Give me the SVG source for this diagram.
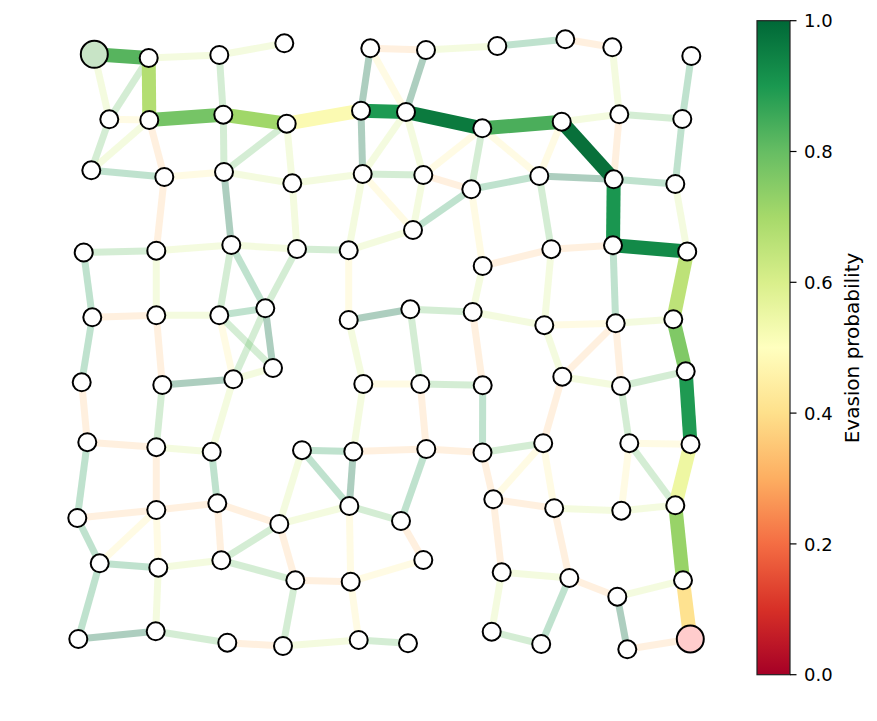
<svg xmlns="http://www.w3.org/2000/svg" width="877" height="721" viewBox="0 0 877 721">
<defs>
<linearGradient id="rdylgn" x1="0" y1="1" x2="0" y2="0">
<stop offset="0" stop-color="#a50026"/>
<stop offset="0.1" stop-color="#d73027"/>
<stop offset="0.2" stop-color="#f46d43"/>
<stop offset="0.3" stop-color="#fdae61"/>
<stop offset="0.4" stop-color="#fee08b"/>
<stop offset="0.5" stop-color="#ffffbf"/>
<stop offset="0.6" stop-color="#d9ef8b"/>
<stop offset="0.7" stop-color="#a6d96a"/>
<stop offset="0.8" stop-color="#66bd63"/>
<stop offset="0.9" stop-color="#1a9850"/>
<stop offset="1" stop-color="#006837"/>
</linearGradient>
<style>
line{fill:none;stroke-linecap:butt}
.f{stroke-width:7;stroke-opacity:0.28}
.t{stroke:#1a9850}
.T{stroke:#006837;stroke-opacity:0.32}
.g{stroke:#66bd63}
.y{stroke:#d9ef8b}
.w{stroke:#fff3a6;stroke-opacity:0.3}
.o{stroke:#fdc07a;stroke-opacity:0.24}
.p{stroke-width:14}
circle{fill:#ffffff;stroke:#000000;stroke-width:2}
.tk{font-family:"DejaVu Sans",sans-serif;font-size:18px;fill:#000}
.lb{font-family:"DejaVu Sans",sans-serif;font-size:20px;fill:#000}
</style>
</defs>
<rect width="877" height="721" fill="#ffffff"/>
<g id="edges">
<line class="f y" x1="148.7" y1="58" x2="219.3" y2="55"/>
<line class="f y" x1="219.3" y1="55" x2="284.3" y2="43.3"/>
<line class="f y" x1="94.3" y1="54.3" x2="109.3" y2="119.3"/>
<line class="f g" x1="148.7" y1="58" x2="109.3" y2="119.3"/>
<line class="f w" x1="109.3" y1="119.3" x2="149.3" y2="120"/>
<line class="f g" x1="109.3" y1="119.3" x2="91.3" y2="170.3"/>
<line class="f y" x1="149.3" y1="120" x2="91.3" y2="170.3"/>
<line class="f o" x1="149.3" y1="120" x2="164.3" y2="177"/>
<line class="f t" x1="91.3" y1="170.3" x2="164.3" y2="177"/>
<line class="f g" x1="219.3" y1="55" x2="223.3" y2="114.7"/>
<line class="f g" x1="223.3" y1="114.7" x2="224" y2="172"/>
<line class="f g" x1="286.7" y1="123.7" x2="224" y2="172"/>
<line class="f w" x1="164.3" y1="177" x2="224" y2="172"/>
<line class="f y" x1="224" y1="172" x2="292.3" y2="183.3"/>
<line class="f y" x1="286.7" y1="123.7" x2="292.3" y2="183.3"/>
<line class="f o" x1="164.3" y1="177" x2="156.3" y2="250.7"/>
<line class="f T" x1="224" y1="172" x2="231.3" y2="245"/>
<line class="f y" x1="292.3" y1="183.3" x2="297" y2="249"/>
<line class="f y" x1="292.3" y1="183.3" x2="362.7" y2="174"/>
<line class="f o" x1="370.3" y1="48.3" x2="426" y2="50"/>
<line class="f y" x1="426" y1="50" x2="497.3" y2="46"/>
<line class="f t" x1="497.3" y1="46" x2="565.3" y2="39.3"/>
<line class="f o" x1="565.3" y1="39.3" x2="612.3" y2="47.3"/>
<line class="f T" x1="370.3" y1="48.3" x2="361" y2="110.7"/>
<line class="f T" x1="426" y1="50" x2="406" y2="112"/>
<line class="f w" x1="370.3" y1="48.3" x2="406" y2="112"/>
<line class="f T" x1="361" y1="110.7" x2="362.7" y2="174"/>
<line class="f y" x1="406" y1="112" x2="362.7" y2="174"/>
<line class="f y" x1="406" y1="112" x2="423.3" y2="175"/>
<line class="f g" x1="362.7" y1="174" x2="423.3" y2="175"/>
<line class="f w" x1="362.7" y1="174" x2="413" y2="230"/>
<line class="f y" x1="423.3" y1="175" x2="413" y2="230"/>
<line class="f o" x1="423.3" y1="175" x2="471.3" y2="189.3"/>
<line class="f w" x1="482.3" y1="128.3" x2="423.3" y2="175"/>
<line class="f g" x1="482.3" y1="128.3" x2="471.3" y2="189.3"/>
<line class="f w" x1="482.3" y1="128.3" x2="539.3" y2="176"/>
<line class="f t" x1="471.3" y1="189.3" x2="539.3" y2="176"/>
<line class="f t" x1="471.3" y1="189.3" x2="413" y2="230"/>
<line class="f w" x1="471.3" y1="189.3" x2="482.7" y2="266"/>
<line class="f w" x1="561.7" y1="121.7" x2="539.3" y2="176"/>
<line class="f g" x1="539.3" y1="176" x2="551.3" y2="249.2"/>
<line class="f y" x1="362.7" y1="174" x2="348.7" y2="250.3"/>
<line class="f y" x1="348.7" y1="250.3" x2="413" y2="230"/>
<line class="f g" x1="297" y1="249" x2="348.7" y2="250.3"/>
<line class="f o" x1="482.7" y1="266" x2="551.3" y2="249.2"/>
<line class="f y" x1="612.3" y1="47.3" x2="619.3" y2="114.3"/>
<line class="f t" x1="691.3" y1="56" x2="682.3" y2="119"/>
<line class="f y" x1="561.7" y1="121.7" x2="619.3" y2="114.3"/>
<line class="f g" x1="619.3" y1="114.3" x2="682.3" y2="119"/>
<line class="f o" x1="619.3" y1="114.3" x2="613.7" y2="179.3"/>
<line class="f t" x1="682.3" y1="119" x2="675.3" y2="184"/>
<line class="f T" x1="539.3" y1="176" x2="613.7" y2="179.3"/>
<line class="f t" x1="613.7" y1="179.3" x2="675.3" y2="184"/>
<line class="f y" x1="675.3" y1="184" x2="687.2" y2="251.5"/>
<line class="f o" x1="551.3" y1="249.2" x2="613" y2="245.3"/>
<line class="f g" x1="83.7" y1="252.5" x2="156.3" y2="250.7"/>
<line class="f y" x1="156.3" y1="250.7" x2="231.3" y2="245"/>
<line class="f y" x1="231.3" y1="245" x2="297" y2="249"/>
<line class="f t" x1="83.7" y1="252.5" x2="92.3" y2="317.3"/>
<line class="f y" x1="156.3" y1="250.7" x2="156.3" y2="315.3"/>
<line class="f g" x1="231.3" y1="245" x2="219.3" y2="315.3"/>
<line class="f t" x1="231.3" y1="245" x2="265.3" y2="308.3"/>
<line class="f g" x1="297" y1="249" x2="265.3" y2="308.3"/>
<line class="f o" x1="92.3" y1="317.3" x2="156.3" y2="315.3"/>
<line class="f y" x1="156.3" y1="315.3" x2="219.3" y2="315.3"/>
<line class="f t" x1="219.3" y1="315.3" x2="265.3" y2="308.3"/>
<line class="f T" x1="265.3" y1="308.3" x2="273" y2="368"/>
<line class="f w" x1="219.3" y1="315.3" x2="233.3" y2="379.3"/>
<line class="f y" x1="233.3" y1="379.3" x2="273" y2="368"/>
<line class="f g" x1="265.3" y1="308.3" x2="233.3" y2="379.3"/>
<line class="f g" x1="219.3" y1="315.3" x2="273" y2="368"/>
<line class="f t" x1="92.3" y1="317.3" x2="81.7" y2="382.3"/>
<line class="f o" x1="156.3" y1="315.3" x2="162.3" y2="385"/>
<line class="f T" x1="162.3" y1="385" x2="233.3" y2="379.3"/>
<line class="f o" x1="81.7" y1="382.3" x2="87.3" y2="442.2"/>
<line class="f g" x1="162.3" y1="385" x2="156.3" y2="447.2"/>
<line class="f y" x1="233.3" y1="379.3" x2="211.7" y2="451.8"/>
<line class="f o" x1="87.3" y1="442.2" x2="156.3" y2="447.2"/>
<line class="f y" x1="156.3" y1="447.2" x2="211.7" y2="451.8"/>
<line class="f w" x1="348.7" y1="250.3" x2="348.7" y2="320"/>
<line class="f y" x1="482.7" y1="266" x2="472.7" y2="312"/>
<line class="f y" x1="551.3" y1="249.2" x2="544.3" y2="325.2"/>
<line class="f T" x1="348.7" y1="320" x2="410.3" y2="309.3"/>
<line class="f g" x1="410.3" y1="309.3" x2="472.7" y2="312"/>
<line class="f y" x1="472.7" y1="312" x2="544.3" y2="325.2"/>
<line class="f g" x1="410.3" y1="309.3" x2="420.3" y2="384"/>
<line class="f y" x1="348.7" y1="320" x2="363.3" y2="384"/>
<line class="f o" x1="472.7" y1="312" x2="482.7" y2="385.3"/>
<line class="f y" x1="544.3" y1="325.2" x2="562.3" y2="376.7"/>
<line class="f w" x1="363.3" y1="384" x2="420.3" y2="384"/>
<line class="f g" x1="420.3" y1="384" x2="482.7" y2="385.3"/>
<line class="f y" x1="363.3" y1="384" x2="353.3" y2="451.5"/>
<line class="f o" x1="420.3" y1="384" x2="426.3" y2="449"/>
<line class="f t" x1="482.7" y1="385.3" x2="482.5" y2="452.5"/>
<line class="f o" x1="562.3" y1="376.7" x2="543.2" y2="443.2"/>
<line class="f t" x1="302" y1="450.2" x2="353.3" y2="451.5"/>
<line class="f o" x1="353.3" y1="451.5" x2="426.3" y2="449"/>
<line class="f o" x1="426.3" y1="449" x2="482.5" y2="452.5"/>
<line class="f g" x1="482.5" y1="452.5" x2="543.2" y2="443.2"/>
<line class="f t" x1="613" y1="245.3" x2="615.7" y2="323.3"/>
<line class="f w" x1="544.3" y1="325.2" x2="615.7" y2="323.3"/>
<line class="f y" x1="615.7" y1="323.3" x2="673.3" y2="319.3"/>
<line class="f o" x1="615.7" y1="323.3" x2="562.3" y2="376.7"/>
<line class="f o" x1="615.7" y1="323.3" x2="621" y2="386"/>
<line class="f y" x1="562.3" y1="376.7" x2="621" y2="386"/>
<line class="f g" x1="621" y1="386" x2="685.7" y2="371.3"/>
<line class="f g" x1="621" y1="386" x2="629.3" y2="443.2"/>
<line class="f w" x1="629.3" y1="443.2" x2="690.5" y2="444.2"/>
<line class="f t" x1="87.3" y1="442.2" x2="77.3" y2="518"/>
<line class="f o" x1="156.3" y1="447.2" x2="156.3" y2="510"/>
<line class="f t" x1="211.7" y1="451.8" x2="217.3" y2="503.3"/>
<line class="f y" x1="302" y1="450.2" x2="279.3" y2="524"/>
<line class="f t" x1="302" y1="450.2" x2="349.3" y2="506"/>
<line class="f o" x1="77.3" y1="518" x2="156.3" y2="510"/>
<line class="f o" x1="156.3" y1="510" x2="217.3" y2="503.3"/>
<line class="f w" x1="156.3" y1="510" x2="99.7" y2="563.3"/>
<line class="f o" x1="217.3" y1="503.3" x2="279.3" y2="524"/>
<line class="f o" x1="217.3" y1="503.3" x2="221.3" y2="560.3"/>
<line class="f y" x1="279.3" y1="524" x2="349.3" y2="506"/>
<line class="f g" x1="279.3" y1="524" x2="221.3" y2="560.3"/>
<line class="f o" x1="279.3" y1="524" x2="295.3" y2="580.3"/>
<line class="f t" x1="77.3" y1="518" x2="99.7" y2="563.3"/>
<line class="f t" x1="99.7" y1="563.3" x2="158.3" y2="567.7"/>
<line class="f w" x1="156.3" y1="510" x2="158.3" y2="567.7"/>
<line class="f y" x1="158.3" y1="567.7" x2="221.3" y2="560.3"/>
<line class="f g" x1="221.3" y1="560.3" x2="295.3" y2="580.3"/>
<line class="f t" x1="99.7" y1="563.3" x2="78.3" y2="639"/>
<line class="f y" x1="158.3" y1="567.7" x2="155.7" y2="631.3"/>
<line class="f g" x1="295.3" y1="580.3" x2="283" y2="646"/>
<line class="f T" x1="78.3" y1="639" x2="155.7" y2="631.3"/>
<line class="f g" x1="155.7" y1="631.3" x2="227.3" y2="642.7"/>
<line class="f o" x1="227.3" y1="642.7" x2="283" y2="646"/>
<line class="f y" x1="283" y1="646" x2="358.7" y2="640"/>
<line class="f T" x1="353.3" y1="451.5" x2="349.3" y2="506"/>
<line class="f t" x1="426.3" y1="449" x2="401" y2="521"/>
<line class="f g" x1="349.3" y1="506" x2="401" y2="521"/>
<line class="f w" x1="349.3" y1="506" x2="350.7" y2="581.7"/>
<line class="f o" x1="401" y1="521" x2="423.3" y2="560"/>
<line class="f o" x1="482.5" y1="452.5" x2="493.3" y2="499.3"/>
<line class="f w" x1="543.2" y1="443.2" x2="493.3" y2="499.3"/>
<line class="f w" x1="543.2" y1="443.2" x2="554.2" y2="508.2"/>
<line class="f o" x1="493.3" y1="499.3" x2="554.2" y2="508.2"/>
<line class="f o" x1="493.3" y1="499.3" x2="501.7" y2="572.3"/>
<line class="f o" x1="295.3" y1="580.3" x2="350.7" y2="581.7"/>
<line class="f w" x1="350.7" y1="581.7" x2="423.3" y2="560"/>
<line class="f y" x1="501.7" y1="572.3" x2="569.3" y2="578"/>
<line class="f y" x1="501.7" y1="572.3" x2="491.7" y2="631.7"/>
<line class="f g" x1="491.7" y1="631.7" x2="541.2" y2="644"/>
<line class="f t" x1="569.3" y1="578" x2="541.2" y2="644"/>
<line class="f w" x1="350.7" y1="581.7" x2="358.7" y2="640"/>
<line class="f g" x1="358.7" y1="640" x2="408" y2="643.3"/>
<line class="f w" x1="629.3" y1="443.2" x2="621.3" y2="510.7"/>
<line class="f g" x1="629.3" y1="443.2" x2="675.3" y2="505.3"/>
<line class="f y" x1="554.2" y1="508.2" x2="621.3" y2="510.7"/>
<line class="f y" x1="621.3" y1="510.7" x2="675.3" y2="505.3"/>
<line class="f o" x1="554.2" y1="508.2" x2="569.3" y2="578"/>
<line class="f o" x1="569.3" y1="578" x2="617.3" y2="596.7"/>
<line class="f y" x1="617.3" y1="596.7" x2="683" y2="580.3"/>
<line class="f T" x1="617.3" y1="596.7" x2="627.3" y2="649.3"/>
<line class="f o" x1="627.3" y1="649.3" x2="690.3" y2="639"/>
<line class="p" stroke="#57b45e" x1="94.3" y1="54.3" x2="148.7" y2="58"/>
<line class="p" stroke="#b3de72" x1="148.7" y1="58" x2="149.3" y2="120"/>
<line class="p" stroke="#76c466" x1="149.3" y1="120" x2="223.3" y2="114.7"/>
<line class="p" stroke="#a0d769" x1="223.3" y1="114.7" x2="286.7" y2="123.7"/>
<line class="p" stroke="#fbfab2" x1="286.7" y1="123.7" x2="361" y2="110.7"/>
<line class="p" stroke="#1d9a52" x1="361" y1="110.7" x2="406" y2="112"/>
<line class="p" stroke="#0b7a3e" x1="406" y1="112" x2="482.3" y2="128.3"/>
<line class="p" stroke="#4bae5b" x1="482.3" y1="128.3" x2="561.7" y2="121.7"/>
<line class="p" stroke="#08703a" stroke-width="15" x1="561.7" y1="121.7" x2="613.7" y2="179.3"/>
<line class="p" stroke="#1a9650" x1="613.7" y1="179.3" x2="613" y2="245.3"/>
<line class="p" stroke="#138a48" x1="613" y1="245.3" x2="687.2" y2="251.5"/>
<line class="p" stroke="#bde278" x1="687.2" y1="251.5" x2="673.3" y2="319.3"/>
<line class="p" stroke="#80c966" x1="673.3" y1="319.3" x2="685.7" y2="371.3"/>
<line class="p" stroke="#1f9a52" x1="685.7" y1="371.3" x2="690.5" y2="444.2"/>
<line class="p" stroke="#eef7a2" x1="690.5" y1="444.2" x2="675.3" y2="505.3"/>
<line class="p" stroke="#98d368" x1="675.3" y1="505.3" x2="683" y2="580.3"/>
<line class="p" stroke="#fee290" x1="683" y1="580.3" x2="690.3" y2="639"/>
</g>
<g id="nodes">
<g id="n1"><circle cx="94.3" cy="54.3" r="13.5" style="fill:#c8e4c6"/></g>
<g id="n2"><circle cx="148.7" cy="58" r="9"/></g>
<g id="n3"><circle cx="219.3" cy="55" r="9"/></g>
<g id="n4"><circle cx="284.3" cy="43.3" r="9"/></g>
<g id="n5"><circle cx="370.3" cy="48.3" r="9"/></g>
<g id="n6"><circle cx="426" cy="50" r="9"/></g>
<g id="n7"><circle cx="497.3" cy="46" r="9"/></g>
<g id="n8"><circle cx="565.3" cy="39.3" r="9"/></g>
<g id="n9"><circle cx="612.3" cy="47.3" r="9"/></g>
<g id="n10"><circle cx="691.3" cy="56" r="9"/></g>
<g id="n11"><circle cx="109.3" cy="119.3" r="9"/></g>
<g id="n12"><circle cx="149.3" cy="120" r="9"/></g>
<g id="n13"><circle cx="223.3" cy="114.7" r="9"/></g>
<g id="n14"><circle cx="286.7" cy="123.7" r="9"/></g>
<g id="n15"><circle cx="361" cy="110.7" r="9"/></g>
<g id="n16"><circle cx="406" cy="112" r="9"/></g>
<g id="n17"><circle cx="482.3" cy="128.3" r="9"/></g>
<g id="n18"><circle cx="561.7" cy="121.7" r="9"/></g>
<g id="n19"><circle cx="619.3" cy="114.3" r="9"/></g>
<g id="n20"><circle cx="682.3" cy="119" r="9"/></g>
<g id="n21"><circle cx="91.3" cy="170.3" r="9"/></g>
<g id="n22"><circle cx="164.3" cy="177" r="9"/></g>
<g id="n23"><circle cx="224" cy="172" r="9"/></g>
<g id="n24"><circle cx="292.3" cy="183.3" r="9"/></g>
<g id="n25"><circle cx="362.7" cy="174" r="9"/></g>
<g id="n26"><circle cx="423.3" cy="175" r="9"/></g>
<g id="n27"><circle cx="471.3" cy="189.3" r="9"/></g>
<g id="n28"><circle cx="539.3" cy="176" r="9"/></g>
<g id="n29"><circle cx="613.7" cy="179.3" r="9"/></g>
<g id="n30"><circle cx="675.3" cy="184" r="9"/></g>
<g id="n31"><circle cx="83.7" cy="252.5" r="9"/></g>
<g id="n32"><circle cx="156.3" cy="250.7" r="9"/></g>
<g id="n33"><circle cx="231.3" cy="245" r="9"/></g>
<g id="n34"><circle cx="297" cy="249" r="9"/></g>
<g id="n35"><circle cx="348.7" cy="250.3" r="9"/></g>
<g id="n36"><circle cx="413" cy="230" r="9"/></g>
<g id="n37"><circle cx="482.7" cy="266" r="9"/></g>
<g id="n38"><circle cx="551.3" cy="249.2" r="9"/></g>
<g id="n39"><circle cx="613" cy="245.3" r="9"/></g>
<g id="n40"><circle cx="687.2" cy="251.5" r="9"/></g>
<g id="n41"><circle cx="92.3" cy="317.3" r="9"/></g>
<g id="n42"><circle cx="156.3" cy="315.3" r="9"/></g>
<g id="n43"><circle cx="219.3" cy="315.3" r="9"/></g>
<g id="n44"><circle cx="265.3" cy="308.3" r="9"/></g>
<g id="n45"><circle cx="348.7" cy="320" r="9"/></g>
<g id="n46"><circle cx="410.3" cy="309.3" r="9"/></g>
<g id="n47"><circle cx="472.7" cy="312" r="9"/></g>
<g id="n48"><circle cx="544.3" cy="325.2" r="9"/></g>
<g id="n49"><circle cx="615.7" cy="323.3" r="9"/></g>
<g id="n50"><circle cx="673.3" cy="319.3" r="9"/></g>
<g id="n51"><circle cx="81.7" cy="382.3" r="9"/></g>
<g id="n52"><circle cx="162.3" cy="385" r="9"/></g>
<g id="n53"><circle cx="233.3" cy="379.3" r="9"/></g>
<g id="n54"><circle cx="273" cy="368" r="9"/></g>
<g id="n55"><circle cx="363.3" cy="384" r="9"/></g>
<g id="n56"><circle cx="420.3" cy="384" r="9"/></g>
<g id="n57"><circle cx="482.7" cy="385.3" r="9"/></g>
<g id="n58"><circle cx="562.3" cy="376.7" r="9"/></g>
<g id="n59"><circle cx="621" cy="386" r="9"/></g>
<g id="n60"><circle cx="685.7" cy="371.3" r="9"/></g>
<g id="n61"><circle cx="87.3" cy="442.2" r="9"/></g>
<g id="n62"><circle cx="156.3" cy="447.2" r="9"/></g>
<g id="n63"><circle cx="211.7" cy="451.8" r="9"/></g>
<g id="n64"><circle cx="302" cy="450.2" r="9"/></g>
<g id="n65"><circle cx="353.3" cy="451.5" r="9"/></g>
<g id="n66"><circle cx="426.3" cy="449" r="9"/></g>
<g id="n67"><circle cx="482.5" cy="452.5" r="9"/></g>
<g id="n68"><circle cx="543.2" cy="443.2" r="9"/></g>
<g id="n69"><circle cx="629.3" cy="443.2" r="9"/></g>
<g id="n70"><circle cx="690.5" cy="444.2" r="9"/></g>
<g id="n71"><circle cx="77.3" cy="518" r="9"/></g>
<g id="n72"><circle cx="156.3" cy="510" r="9"/></g>
<g id="n73"><circle cx="217.3" cy="503.3" r="9"/></g>
<g id="n74"><circle cx="279.3" cy="524" r="9"/></g>
<g id="n75"><circle cx="349.3" cy="506" r="9"/></g>
<g id="n76"><circle cx="401" cy="521" r="9"/></g>
<g id="n77"><circle cx="493.3" cy="499.3" r="9"/></g>
<g id="n78"><circle cx="554.2" cy="508.2" r="9"/></g>
<g id="n79"><circle cx="621.3" cy="510.7" r="9"/></g>
<g id="n80"><circle cx="675.3" cy="505.3" r="9"/></g>
<g id="n81"><circle cx="99.7" cy="563.3" r="9"/></g>
<g id="n82"><circle cx="158.3" cy="567.7" r="9"/></g>
<g id="n83"><circle cx="221.3" cy="560.3" r="9"/></g>
<g id="n84"><circle cx="295.3" cy="580.3" r="9"/></g>
<g id="n85"><circle cx="350.7" cy="581.7" r="9"/></g>
<g id="n86"><circle cx="423.3" cy="560" r="9"/></g>
<g id="n87"><circle cx="501.7" cy="572.3" r="9"/></g>
<g id="n88"><circle cx="569.3" cy="578" r="9"/></g>
<g id="n89"><circle cx="617.3" cy="596.7" r="9"/></g>
<g id="n90"><circle cx="683" cy="580.3" r="9"/></g>
<g id="n91"><circle cx="78.3" cy="639" r="9"/></g>
<g id="n92"><circle cx="155.7" cy="631.3" r="9"/></g>
<g id="n93"><circle cx="227.3" cy="642.7" r="9"/></g>
<g id="n94"><circle cx="283" cy="646" r="9"/></g>
<g id="n95"><circle cx="358.7" cy="640" r="9"/></g>
<g id="n96"><circle cx="408" cy="643.3" r="9"/></g>
<g id="n97"><circle cx="491.7" cy="631.7" r="9"/></g>
<g id="n98"><circle cx="541.2" cy="644" r="9"/></g>
<g id="n99"><circle cx="627.3" cy="649.3" r="9"/></g>
<g id="n100"><circle cx="690.3" cy="639" r="13.5" style="fill:#ffcccc"/></g>
</g>
<g id="colorbar">
<rect x="757" y="20.7" width="33" height="654" fill="url(#rdylgn)" stroke="#222" stroke-width="1.2"/>
<g stroke="#000" stroke-width="1.2">
<line x1="790" y1="20.7" x2="796.5" y2="20.7"/>
<line x1="790" y1="151.5" x2="796.5" y2="151.5"/>
<line x1="790" y1="282.3" x2="796.5" y2="282.3"/>
<line x1="790" y1="413.1" x2="796.5" y2="413.1"/>
<line x1="790" y1="543.9" x2="796.5" y2="543.9"/>
<line x1="790" y1="674.7" x2="796.5" y2="674.7"/>
</g>
<text class="tk" x="804" y="27.3">1.0</text>
<text class="tk" x="804" y="158.1">0.8</text>
<text class="tk" x="804" y="288.9">0.6</text>
<text class="tk" x="804" y="419.7">0.4</text>
<text class="tk" x="804" y="550.5">0.2</text>
<text class="tk" x="804" y="681.3">0.0</text>
<text class="lb" transform="translate(859,348) rotate(-90)" text-anchor="middle">Evasion probability</text>
</g>
</svg>
